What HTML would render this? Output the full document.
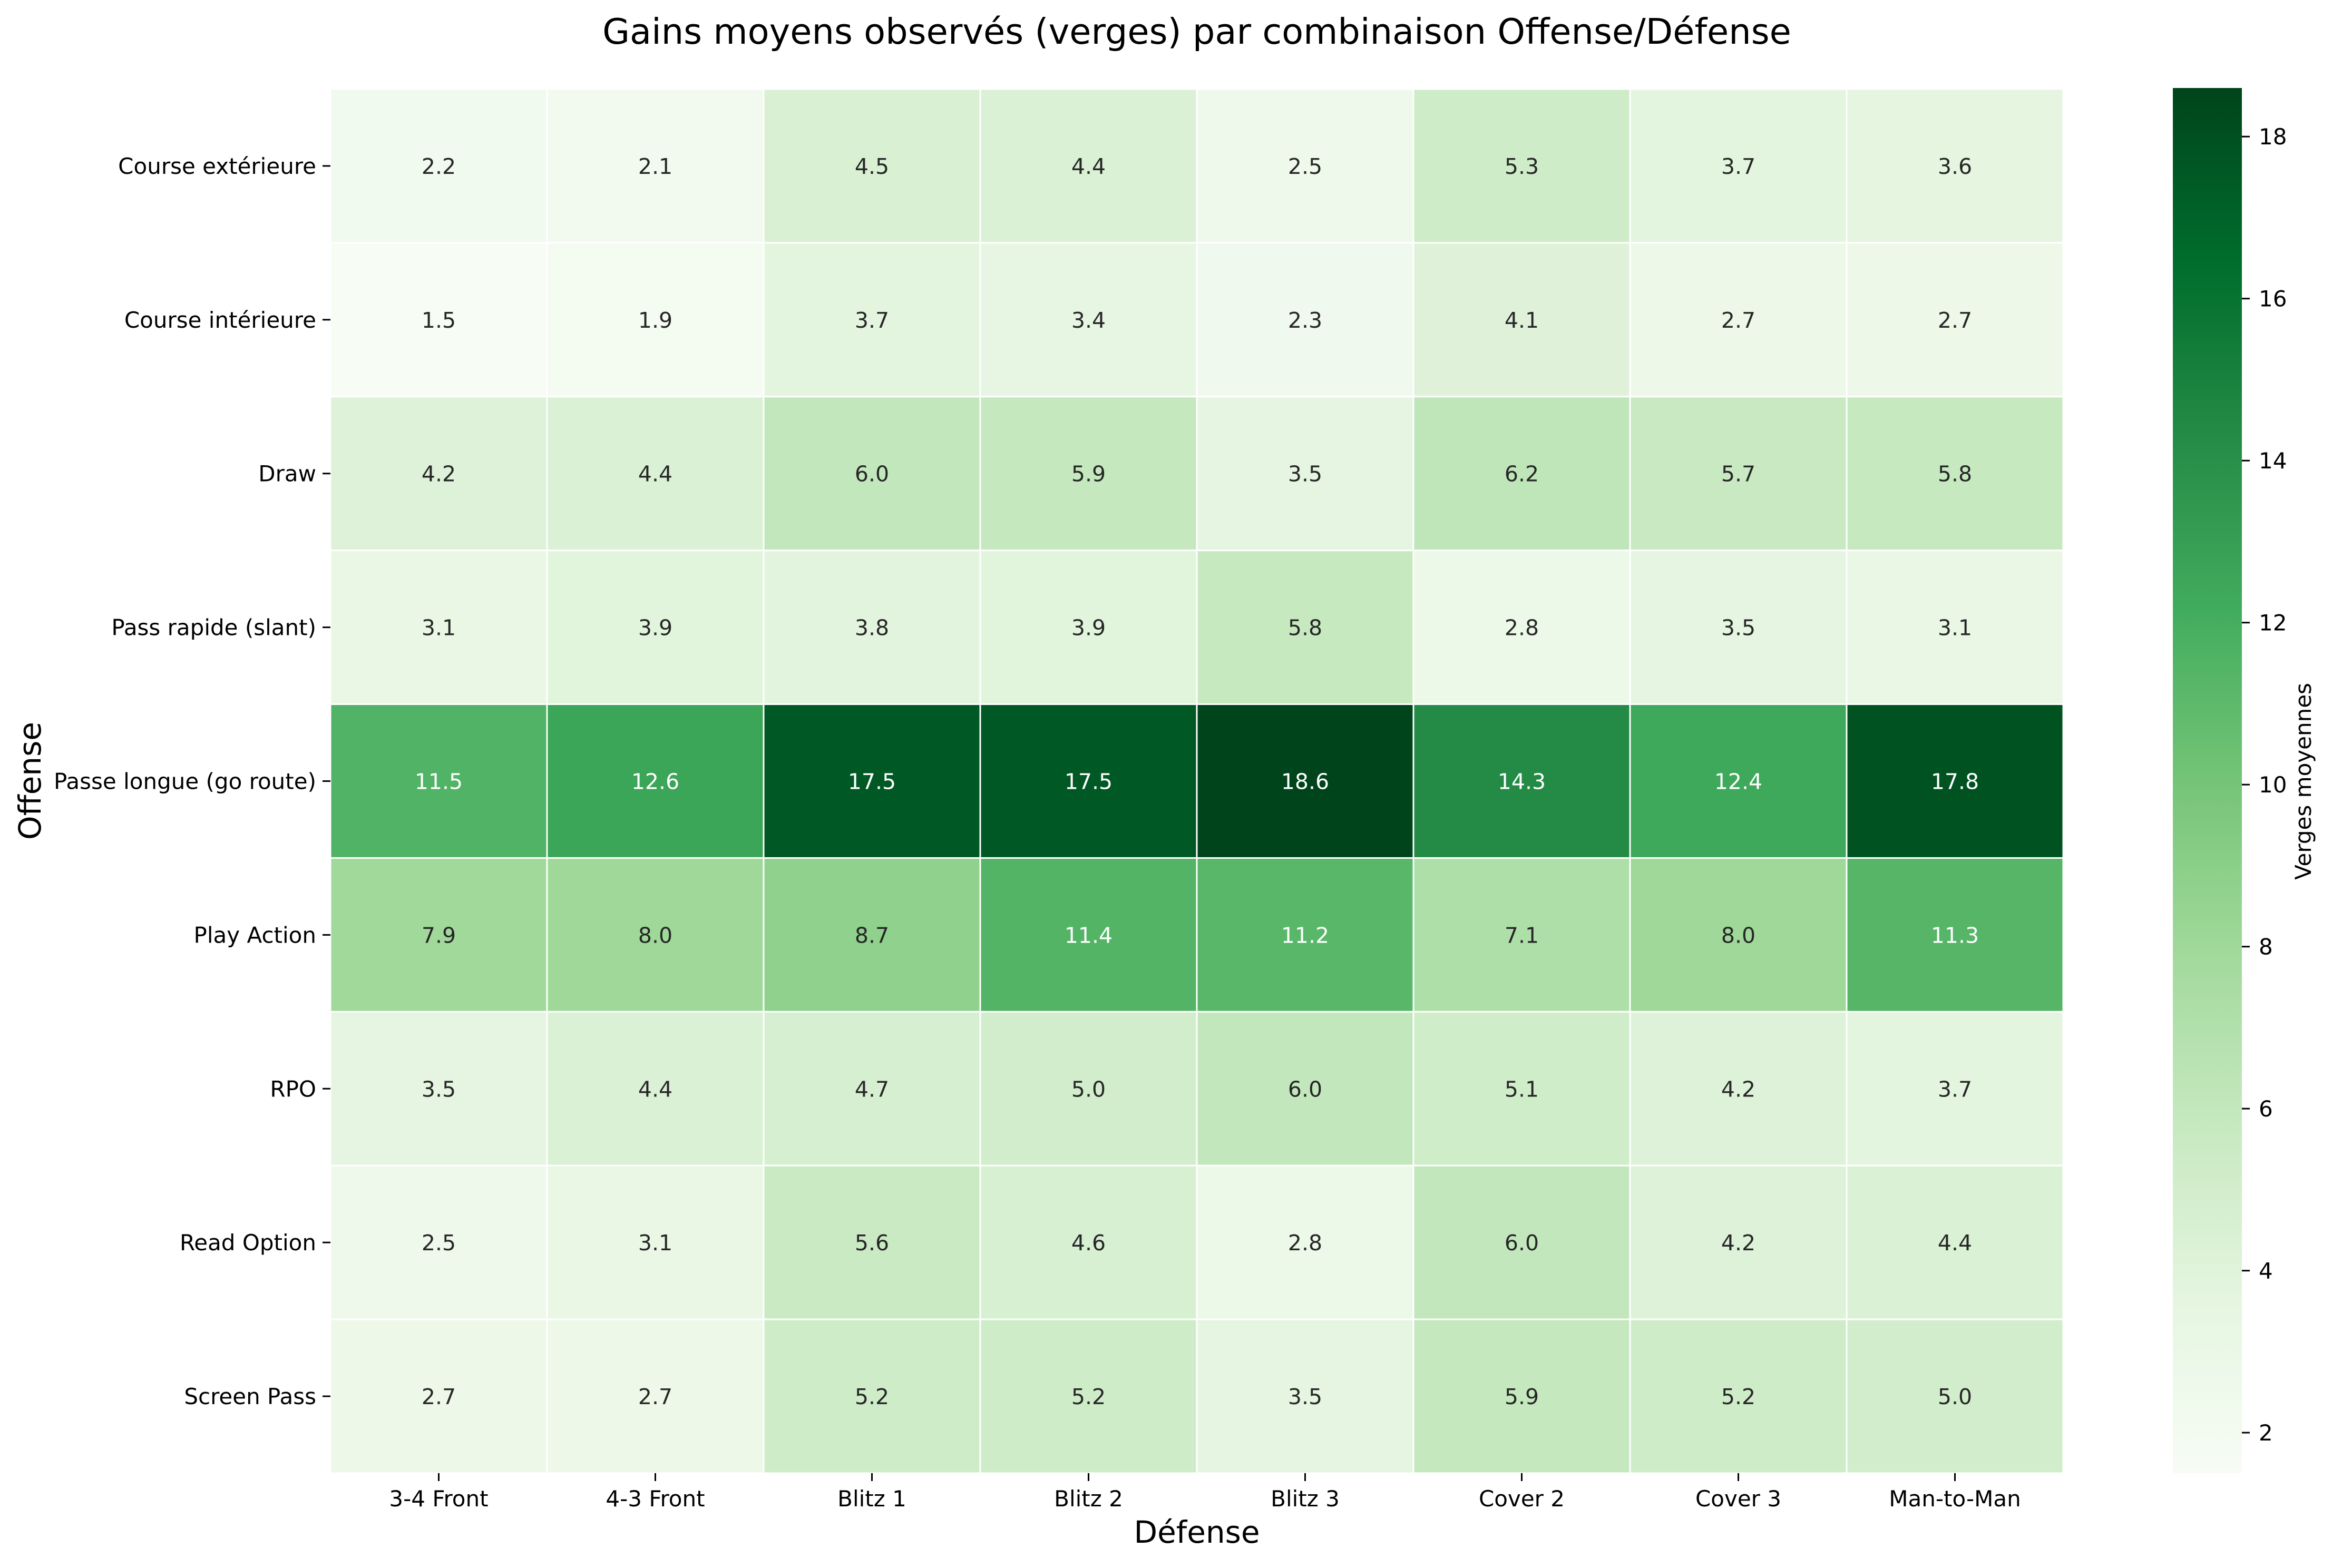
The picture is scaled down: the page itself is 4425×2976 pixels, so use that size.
<!DOCTYPE html>
<html><head><meta charset="utf-8"><style>
html,body{margin:0;padding:0;background:#fff;}
svg text{font-family:"DejaVu Sans","Liberation Sans",sans-serif;}
</style></head><body>
<svg id="chart" xmlns="http://www.w3.org/2000/svg" width="4425" height="2971" viewBox="0 0 4425 2971">
<rect width="4425" height="2971" fill="#fff"/>
<text x="2271" y="83" font-size="67" text-anchor="middle">Gains moyens observés (verges) par combinaison Offense/Défense</text>
<g id="cells"></g>
<g id="xaxis"></g>
<g id="yaxis"></g>
<text x="2271" y="2928" font-size="58" text-anchor="middle">Défense</text>
<text transform="translate(77,1482) rotate(-90)" font-size="58" text-anchor="middle">Offense</text>
<defs><linearGradient id="cbgrad" x1="0" y1="1" x2="0" y2="0"></linearGradient></defs>
<rect x="4123" y="167" width="131" height="2629" fill="url(#cbgrad)"/>
<g id="cbticks"></g>
<text transform="translate(4385,1483) rotate(-90)" font-size="42" text-anchor="middle">Verges moyennes</text>
</svg>
<script>
const defenses = ["3-4 Front","4-3 Front","Blitz 1","Blitz 2","Blitz 3","Cover 2","Cover 3","Man-to-Man"];
const offenses = ["Course extérieure","Course intérieure","Draw","Pass rapide (slant)","Passe longue (go route)","Play Action","RPO","Read Option","Screen Pass"];
const rowCourseExt = [2.2,2.1,4.5,4.4,2.5,5.3,3.7,3.6];
const rowCourseInt = [1.5,1.9,3.7,3.4,2.3,4.1,2.7,2.7];
const rowDraw = [4.2,4.4,6.0,5.9,3.5,6.2,5.7,5.8];
const rowSlant = [3.1,3.9,3.8,3.9,5.8,2.8,3.5,3.1];
const rowGoRoute = [11.5,12.6,17.5,17.5,18.6,14.3,12.4,17.8];
const rowPlayAction = [7.9,8.0,8.7,11.4,11.2,7.1,8.0,11.3];
const rowRPO = [3.5,4.4,4.7,5.0,6.0,5.1,4.2,3.7];
const rowReadOption = [2.5,3.1,5.6,4.6,2.8,6.0,4.2,4.4];
const rowScreen = [2.7,2.7,5.2,5.2,3.5,5.9,5.2,5.0];
const values = [rowCourseExt,rowCourseInt,rowDraw,rowSlant,rowGoRoute,rowPlayAction,rowRPO,rowReadOption,rowScreen];
const cbTicks = [2,4,6,8,10,12,14,16,18];
const vmin = 1.5, vmax = 18.6;

const NS="http://www.w3.org/2000/svg";
const L=627,R=3915,T=169,B=2796;
const cw=(R-L)/defenses.length, ch=(B-T)/offenses.length;
const xPos=i=>L+cw*i, yPos=j=>T+ch*j;
const cbTop=167,cbBot=2796;
const cbY=v=>cbBot-(v-vmin)/(vmax-vmin)*(cbBot-cbTop);
const stops=["#f7fcf5","#e5f5e0","#c7e9c0","#a1d99b","#74c476","#41ab5d","#238b45","#006d2c","#00441b"].map(h=>[parseInt(h.substr(1,2),16),parseInt(h.substr(3,2),16),parseInt(h.substr(5,2),16)]);
function cmap(t){t=Math.max(0,Math.min(1,t));const p=t*8,i=Math.min(7,Math.floor(p)),f=p-i;return stops[i].map((c,k)=>Math.round(c+(stops[i+1][k]-c)*f));}
function lum(c){const l=c.map(v=>{v/=255;return v<=0.03928?v/12.92:Math.pow((v+0.055)/1.055,2.4);});return 0.2126*l[0]+0.7152*l[1]+0.0722*l[2];}
function mk(tag,attrs,parent){const e=document.createElementNS(NS,tag);for(const k in attrs)e.setAttribute(k,attrs[k]);parent.appendChild(e);return e;}

const cells=document.getElementById('cells');
values.forEach((row,j)=>row.forEach((v,i)=>{
  const c=cmap((v-vmin)/(vmax-vmin));
  const r=mk('rect',{x:xPos(i),y:yPos(j),width:cw,height:ch,fill:`rgb(${c})`,stroke:'#fff','stroke-width':3},cells);
  
  
  const t=mk('text',{x:xPos(i)+cw/2,y:yPos(j)+ch/2+15,'font-size':41,'text-anchor':'middle',fill:lum(c)>0.408?'#262626':'#ffffff'},cells);
  t.textContent=v.toFixed(1);
  
  
}));
const xa=document.getElementById('xaxis');
defenses.forEach((d,i)=>{
  const x=xPos(i)+cw/2;
  const tk=mk('line',{x1:x,x2:x,y1:B,y2:B+15,stroke:'#000','stroke-width':3},xa);
  
  
  const t=mk('text',{x:x,y:2859,'font-size':42,'text-anchor':'middle'},xa);
  t.textContent=d;
  
  
});
const ya=document.getElementById('yaxis');
offenses.forEach((o,j)=>{
  const y=yPos(j)+ch/2;
  const tk=mk('line',{x1:L-15,x2:L,y1:y,y2:y,stroke:'#000','stroke-width':3},ya);
  
  
  const t=mk('text',{x:L-27,y:y+15,'font-size':42,'text-anchor':'end'},ya);
  t.textContent=o;
  
  
});
const g=document.getElementById('cbgrad');
for(let k=0;k<=16;k++){const c=cmap(k/16);mk('stop',{offset:(k/16),'stop-color':`rgb(${c})`},g);}
const cbt=document.getElementById('cbticks');
cbTicks.forEach(v=>{
  const y=cbY(v);
  const tk=mk('line',{x1:4254,x2:4269,y1:y,y2:y,stroke:'#000','stroke-width':3},cbt);
  
  
  const t=mk('text',{x:4286,y:y+15,'font-size':42},cbt);
  t.textContent=v;
  
  
});
</script>
</body></html>
